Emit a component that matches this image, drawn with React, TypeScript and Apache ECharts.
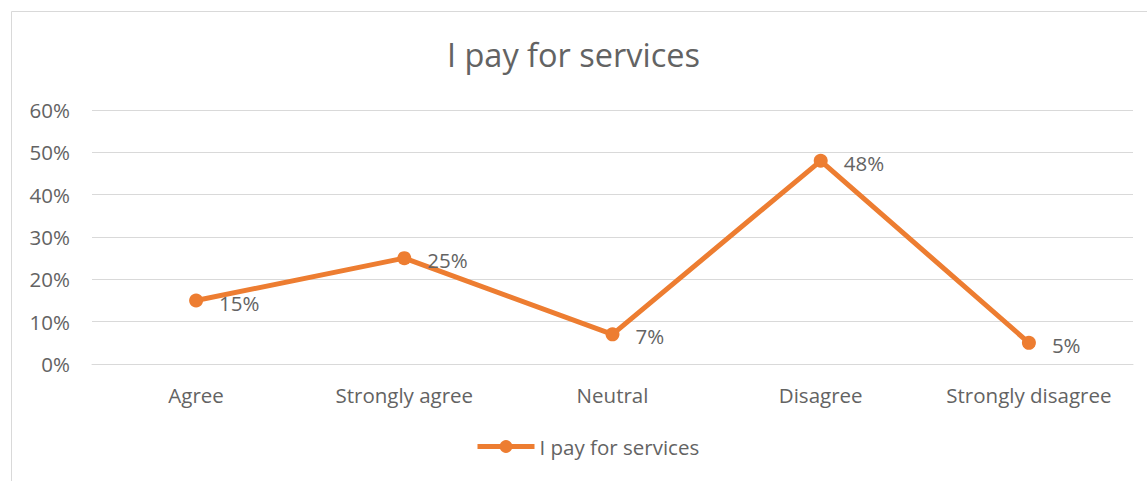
import React, { useEffect, useRef } from "react";
import * as echarts from "echarts";

const categories = ["Agree", "Strongly agree", "Neutral", "Disagree", "Strongly disagree"];
const values = [0.15, 0.25, 0.07, 0.48, 0.05];
const seriesName = "I pay for services";
const titleText = "I pay for services";

export default function App() {
  const ref = useRef<HTMLDivElement>(null);
  useEffect(() => {
    document.body.style.margin = "0";
    const chart = echarts.init(ref.current!, null, { renderer: "svg" });
    const font = "'Open Sans', sans-serif";
    const txt = "#636363";
    chart.setOption({
      animation: false,
      backgroundColor: "#ffffff",
      title: {
        text: titleText,
        left: "center",
        top: 33,
        textStyle: { fontFamily: font, fontSize: 32.5, fontWeight: "normal", color: txt },
      },
      graphic: [
        {
          type: "rect",
          shape: { x: 11.5, y: 11.5, width: 1160, height: 490 },
          style: { fill: "none", stroke: "#d9d9d9", lineWidth: 1 },
          silent: true,
        },
      ],
      grid: { left: 92, right: 14, top: 110, bottom: 117 },
      legend: {
        top: 431,
        left: 470,
        itemWidth: 57,
        itemHeight: 16,
        itemGap: 0,
        lineStyle: { width: 5 },
        textStyle: { fontFamily: font, fontSize: 20.5, color: txt },
        data: [seriesName],
      },
      xAxis: {
        type: "category",
        data: categories,
        boundaryGap: true,
        axisLine: { show: true, lineStyle: { color: "#d9d9d9", width: 1 } },
        axisTick: { show: false },
        axisLabel: { interval: 0, fontFamily: font, fontSize: 20.5, color: txt, margin: 20 },
      },
      yAxis: {
        type: "value",
        min: 0,
        max: 0.6,
        interval: 0.1,
        axisLine: { show: false },
        axisTick: { show: false },
        splitLine: { lineStyle: { color: "#d9d9d9", width: 1 } },
        axisLabel: {
          fontFamily: font,
          fontSize: 20.5,
          color: txt,
          margin: 22,
          formatter: (v: number) => Math.round(v * 100) + "%",
        },
      },
      series: [
        {
          name: seriesName,
          type: "line",
          data: values,
          symbol: "circle",
          symbolSize: 14,
          lineStyle: { color: "#ED7D31", width: 5 },
          itemStyle: { color: "#ED7D31" },
          label: {
            show: true,
            position: "right",
            distance: 16,
            offset: [0, 2],
            fontFamily: font,
            fontSize: 20.5,
            color: txt,
            formatter: (p: any) => Math.round(p.value * 100) + "%",
          },
        },
      ],
    });
    return () => chart.dispose();
  }, []);
  return <div ref={ref} style={{ position: "absolute", left: 0, top: 0, width: 1147, height: 481 }} />;
}
